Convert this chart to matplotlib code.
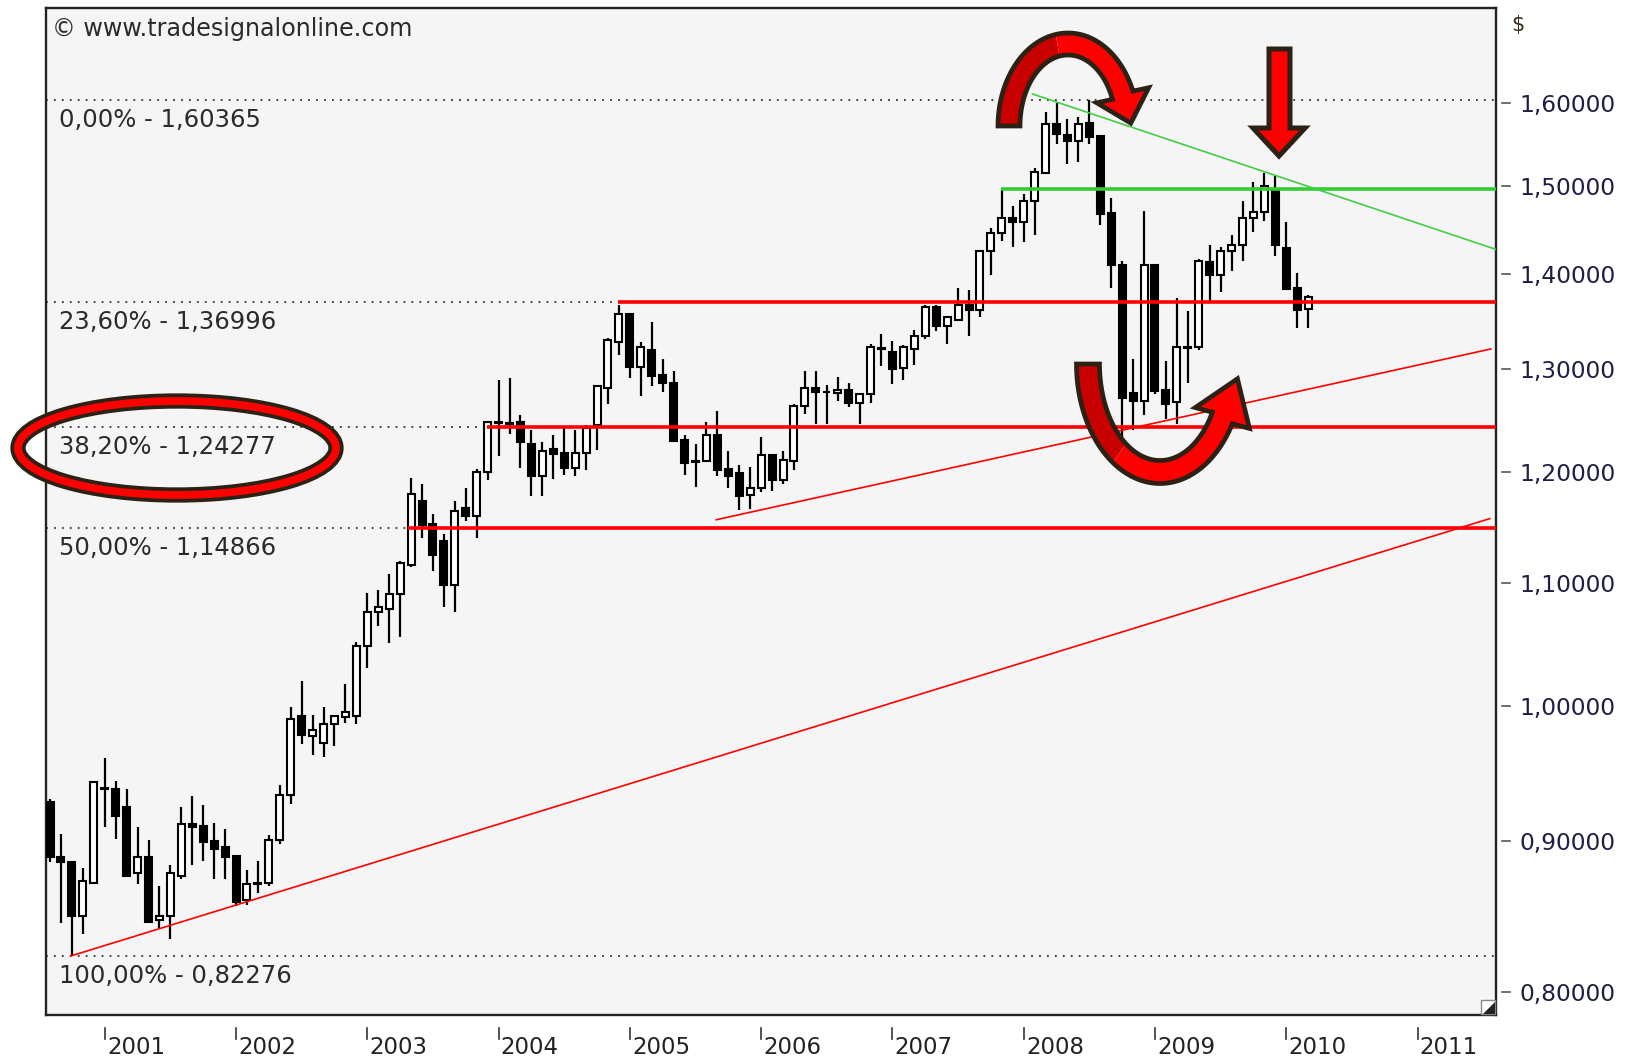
import numpy as np
import matplotlib
matplotlib.use('Agg')
import matplotlib.pyplot as plt
from matplotlib.patches import Polygon, Ellipse, Rectangle
from matplotlib.ticker import NullLocator
from matplotlib.transforms import blended_transform_factory

# monthly EUR/USD candles, Aug 2000 .. Mar 2010 (index 0 = Aug 2000)
opens = [
    0.928, 0.889, 0.885, 0.849, 0.871,
    0.938, 0.9375, 0.924, 0.878, 0.889, 0.846, 0.8486, 0.8757, 0.912, 0.9105, 0.900, 0.8955,
    0.8895, 0.8596, 0.8703, 0.871, 0.9005, 0.933, 0.9918, 0.977, 0.971, 0.986, 0.991, 0.992,
    1.048, 1.076, 1.078, 1.091, 1.116, 1.173, 1.152, 1.137, 1.099, 1.167, 1.159, 1.200,
    1.2475, 1.247, 1.2475, 1.2263, 1.1958, 1.2214, 1.2182, 1.2036, 1.2175, 1.2442, 1.2815, 1.328,
    1.3572, 1.302, 1.3196, 1.2945, 1.2864, 1.2305, 1.2096, 1.210, 1.2351, 1.2026, 1.1988, 1.1784,
    1.1845, 1.2156, 1.1922, 1.210, 1.2627, 1.2815, 1.2772, 1.2756, 1.2795, 1.266, 1.2746, 1.3215,
    1.3175, 1.301, 1.321, 1.3343, 1.3645, 1.3449, 1.3512, 1.3663, 1.361, 1.4255, 1.4455, 1.4621,
    1.4576, 1.482, 1.515, 1.5734, 1.560, 1.5532, 1.5746, 1.5585, 1.4681, 1.4104, 1.276, 1.2683,
    1.4104, 1.2795, 1.267, 1.3221, 1.3221, 1.413, 1.3992, 1.4255, 1.4322, 1.4621, 1.4697, 1.496,
    1.4283, 1.3853, 1.362]
highs = [
    0.930, 0.905, 0.886, 0.881, 0.943,
    0.960, 0.943, 0.9375, 0.9095, 0.9005, 0.869, 0.8834, 0.924, 0.932, 0.9258, 0.913, 0.9083,
    0.8895, 0.880, 0.8863, 0.904, 0.940, 0.999, 1.0196, 0.993, 0.999, 0.993, 1.017, 1.051,
    1.092, 1.094, 1.108, 1.119, 1.194, 1.189, 1.161, 1.143, 1.173, 1.185, 1.203, 1.2475,
    1.289, 1.291, 1.2546, 1.2393, 1.2286, 1.2351, 1.2426, 1.2393, 1.2442, 1.2838, 1.3316, 1.3666,
    1.3572, 1.3274, 1.3484, 1.3105, 1.2977, 1.2351, 1.2263, 1.2475, 1.2578, 1.2198, 1.2068, 1.2046,
    1.2328, 1.2160, 1.2198, 1.2653, 1.2977, 1.2977, 1.2838, 1.2922, 1.2858, 1.2760, 1.3256, 1.336,
    1.329, 1.3245, 1.3406, 1.367, 1.367, 1.3540, 1.3853, 1.3827, 1.4255, 1.4508, 1.4953, 1.4764,
    1.490, 1.521, 1.5883, 1.5996, 1.5794, 1.5827, 1.6037, 1.5600, 1.4859, 1.4142, 1.3105, 1.4706,
    1.4104, 1.308, 1.3737, 1.3598, 1.416, 1.4322, 1.4296, 1.443, 1.482, 1.5046, 1.5151, 1.5118,
    1.4582, 1.4011, 1.377]
lows = [
    0.885, 0.844, 0.8228, 0.837, 0.870,
    0.910, 0.9015, 0.875, 0.870, 0.8444, 0.841, 0.834, 0.874, 0.883, 0.886, 0.874, 0.874,
    0.8555, 0.856, 0.8642, 0.869, 0.898, 0.926, 0.9705, 0.962, 0.961, 0.969, 0.987, 0.986,
    1.030, 1.064, 1.050, 1.055, 1.114, 1.140, 1.111, 1.080, 1.076, 1.155, 1.140, 1.192,
    1.215, 1.236, 1.2036, 1.1778, 1.1778, 1.1935, 1.1973, 1.1958, 1.2019, 1.2208, 1.2653, 1.314,
    1.2912, 1.2727, 1.283, 1.2766, 1.229, 1.1973, 1.1863, 1.209, 1.1958, 1.1854, 1.1644, 1.166,
    1.1809, 1.1823, 1.1883, 1.2019, 1.2556, 1.2458, 1.2458, 1.2685, 1.262, 1.2458, 1.266, 1.3027,
    1.2848, 1.2895, 1.3045, 1.3308, 1.3396, 1.3256, 1.3500, 1.3343, 1.3537, 1.3992, 1.4368, 1.4294,
    1.435, 1.443, 1.513, 1.5492, 1.525, 1.5278, 1.5492, 1.4544, 1.3853, 1.233, 1.2393, 1.2539,
    1.2746, 1.2507, 1.2458, 1.2864, 1.3200, 1.371, 1.3803, 1.4029, 1.4142, 1.4469, 1.4594, 1.4197,
    1.3843, 1.3421, 1.3421]
closes = [
    0.889, 0.885, 0.849, 0.872, 0.942,
    0.937, 0.9175, 0.8757, 0.889, 0.845, 0.849, 0.8778, 0.912, 0.910, 0.8995, 0.8944, 0.889,
    0.8582, 0.870, 0.8711, 0.9005, 0.933, 0.990, 0.9773, 0.981, 0.986, 0.992, 0.995, 1.048,
    1.076, 1.080, 1.091, 1.118, 1.179, 1.151, 1.125, 1.099, 1.164, 1.159, 1.200, 1.2475,
    1.2465, 1.246, 1.228, 1.1958, 1.2198, 1.2166, 1.2036, 1.2176, 1.2416, 1.2826, 1.330, 1.3572,
    1.302, 1.3221, 1.2935, 1.2857, 1.2295, 1.2085, 1.2100, 1.2351, 1.2019, 1.1958, 1.1778, 1.1845,
    1.2156, 1.1922, 1.211, 1.263, 1.2815, 1.2772, 1.2766, 1.2795, 1.266, 1.2746, 1.3221, 1.3205,
    1.300, 1.3221, 1.3336, 1.3645, 1.3443, 1.3537, 1.3663, 1.361, 1.4255, 1.4455, 1.4621, 1.4576,
    1.482, 1.5155, 1.5734, 1.5613, 1.5532, 1.5734, 1.5573, 1.4668, 1.4104, 1.2707, 1.2683, 1.4104,
    1.2782, 1.2653, 1.3221, 1.3215, 1.4142, 1.3992, 1.4255, 1.4318, 1.4621, 1.4697, 1.499, 1.4318,
    1.3843, 1.361, 1.3754]

years = list(range(2001, 2012))
year_idx = [5 + 12 * k for k in range(len(years))]

yticks = [0.8, 0.9, 1.0, 1.1, 1.2, 1.3, 1.4, 1.5, 1.6]
ytick_labels = ['0,80000', '0,90000', '1,00000', '1,10000', '1,20000',
                '1,30000', '1,40000', '1,50000', '1,60000']

fib_levels = [1.60365, 1.36996, 1.24277, 1.14866, 0.82276]
fib_labels = ['0,00% - 1,60365', '23,60% - 1,36996', '38,20% - 1,24277',
              '50,00% - 1,14866', '100,00% - 0,82276']

# red support lines: (level, start index)
red_levels = [1.36996, 1.24277, 1.14866]
red_starts = [51.9, 39.9, 32.7]
green_level = 1.4955
green_start = 86.9

# trend lines (index, price)
trend_long_x = [1.9, 131.6]
trend_long_y = [0.8228, 1.157]
trend_short_x = [60.9, 131.7]
trend_short_y = [1.156, 1.3206]
trend_green_x = [89.8, 132.2]
trend_green_y = [1.611, 1.427]

W, H = 1632, 1056
plt.rcParams['font.family'] = ['DejaVu Sans']

fig = plt.figure(figsize=(W / 100, H / 100), dpi=100)
fig.patch.set_facecolor('white')
ax = fig.add_axes([46 / W, 1 - 1015 / H, 1450 / W, 1007 / H])
ax.set_facecolor('#f5f5f5')
ax.set_yscale('log')
x_right = 132.17
ax.set_xlim(-0.37, x_right)
ax.set_ylim(0.7858, 1.7226)
for sp in ax.spines.values():
    sp.set_linewidth(1.7)
    sp.set_color('#222222')

o = np.array(opens)
hi = np.array(highs)
lo = np.array(lows)
c = np.array(closes)
idx = np.arange(len(o))
up = c >= o

# candles
ax.vlines(idx, lo, hi, color='black', lw=1.6, zorder=3)
body_lo = np.minimum(o, c)
body_h = np.maximum(np.abs(c - o), 0.0008)
ax.bar(idx, body_h, bottom=body_lo, width=0.64,
       color=np.where(up, 'white', 'black'), edgecolor='black', lw=1.5, zorder=4)

# fibonacci dotted lines and labels
tr_ay = blended_transform_factory(ax.transAxes, ax.transData)
for lvl, lab in zip(fib_levels, fib_labels):
    ax.axhline(lvl, color='#333333', ls=(0, (1, 3.4)), lw=1.3, zorder=2)
    ax.annotate(lab, xy=(0.009, lvl), xycoords=tr_ay, xytext=(0, -14.5),
                textcoords='offset points', va='center', ha='left',
                fontsize=17.5, color='#2a2a2a', zorder=6)

# horizontal support / resistance
for lvl, xs in zip(red_levels, red_starts):
    ax.hlines(lvl, xs, x_right, color='#ff0000', lw=2.6, zorder=5)
ax.hlines(green_level, green_start, x_right, color='#33cc33', lw=2.6, zorder=5)

# trend lines
ax.plot(trend_long_x, trend_long_y, color='#ff0000', lw=1.2, zorder=5)
ax.plot(trend_short_x, trend_short_y, color='#ff0000', lw=1.2, zorder=5)
ax.plot(trend_green_x, trend_green_y, color='#44cc44', lw=1.2, zorder=5)

# right y axis
ax.yaxis.set_minor_locator(NullLocator())
ax.yaxis.tick_right()
ax.set_yticks(yticks)
ax.set_yticklabels(ytick_labels)
ax.tick_params(axis='y', length=0, pad=17, labelsize=16.8, labelcolor='#1e1e46')
tr_ya = blended_transform_factory(ax.transAxes, ax.transData)
for v in yticks:
    ax.plot([1.0041, 1.0097], [v, v], transform=tr_ya, color='#555555',
            lw=1.2, clip_on=False)

# bottom year axis
ax.set_xticks([])
tr_xa = blended_transform_factory(ax.transData, ax.transAxes)
for xi, yr in zip(year_idx, years):
    ax.plot([xi, xi], [-0.0129, -0.0238], transform=tr_xa, color='#333333',
            lw=1.2, clip_on=False)
    ax.text(xi + 0.2, -0.0387, str(yr), transform=tr_xa, ha='left', va='baseline',
            fontsize=16.5, color='#222222',
            family=['Liberation Sans Narrow', 'DejaVu Sans'])

fig.text(52 / W, 1 - 29 / H, '\u00a9 www.tradesignalonline.com', va='center',
         ha='left', fontsize=17.2, color='#2a2a2a')
fig.text(1511 / W, 1 - 25 / H, '$', va='center', ha='left', fontsize=15,
         color='#3a3020')


# ---- hand drawn annotations (pixel coords, origin top-left) ----
def to_fig(pts):
    return [(x / W, 1 - y / H) for x, y in pts]


def arc_arrow(cx, cy, a, b, t0, t1, w, head_w, head_len, t_split,
              dark='#c80000', bright='#ff0000', edge='#2b2215'):
    ts = np.radians(np.linspace(t0, t1, 90))
    outer = np.c_[cx + (a + w / 2) * np.cos(ts), cy - (b + w / 2) * np.sin(ts)]
    inner = np.c_[cx + (a - w / 2) * np.cos(ts), cy - (b - w / 2) * np.sin(ts)]
    t = np.radians(t1)
    s = np.sign(t1 - t0)
    e = np.array([cx + a * np.cos(t), cy - b * np.sin(t)])
    d = s * np.array([-a * np.sin(t), -b * np.cos(t)])
    d /= np.linalg.norm(d)
    n = np.array([-d[1], d[0]])
    c1 = e + n * head_w / 2
    c2 = e - n * head_w / 2
    if np.linalg.norm(c1 - outer[-1]) > np.linalg.norm(c2 - outer[-1]):
        c1, c2 = c2, c1
    tip = e + d * head_len
    k = int(np.argmin(np.abs(np.degrees(ts) - t_split)))
    dark_pts = list(outer[:k + 1]) + list(inner[:k + 1][::-1])
    bright_pts = list(outer[k:]) + [c1, tip, c2] + list(inner[k:][::-1])
    full = list(outer) + [c1, tip, c2] + list(inner[::-1])
    fig.add_artist(Polygon(to_fig(dark_pts), closed=True, transform=fig.transFigure,
                           facecolor=dark, edgecolor='none', zorder=10))
    fig.add_artist(Polygon(to_fig(bright_pts), closed=True, transform=fig.transFigure,
                           facecolor=bright, edgecolor='none', zorder=10))
    fig.add_artist(Polygon(to_fig(full), closed=True, transform=fig.transFigure,
                           facecolor='none', edgecolor=edge, lw=3.4,
                           joinstyle='miter', zorder=11))


arc_arrow(1068, 126, 59, 82, 180, 22, 22, 54, 29, 100)
arc_arrow(1160, 364, 72, 108, 180, 330, 23, 58, 42, 235)

down_arrow = [(1269, 49), (1290, 49), (1290, 128), (1305, 128), (1279, 156),
              (1253, 128), (1269, 128)]
fig.add_artist(Polygon(to_fig(down_arrow), closed=True, transform=fig.transFigure,
                       facecolor='#ff0000', edgecolor='#2b2215', lw=3.6,
                       joinstyle='miter', zorder=11))

fig.add_artist(Ellipse((177 / W, 1 - 448 / H), 318 / W, 94 / H, transform=fig.transFigure,
                       fill=False, edgecolor='#2b2215', lw=11, zorder=10))
fig.add_artist(Ellipse((177 / W, 1 - 448 / H), 318 / W, 94 / H, transform=fig.transFigure,
                       fill=False, edgecolor='#ff0000', lw=5.6, zorder=11))

# small resize glyph in the lower right corner of the plot frame
fig.add_artist(Rectangle((1481 / W, 1 - 1014 / H), 14 / W, 14 / H, transform=fig.transFigure,
                         facecolor='white', edgecolor='#888888', lw=1.0, zorder=12))
fig.add_artist(Polygon(to_fig([(1495, 1002), (1495, 1014), (1483, 1014)]), closed=True,
                       transform=fig.transFigure, facecolor='#222222', edgecolor='none',
                       zorder=13))

fig.savefig('out.png', dpi=100, facecolor='white')
